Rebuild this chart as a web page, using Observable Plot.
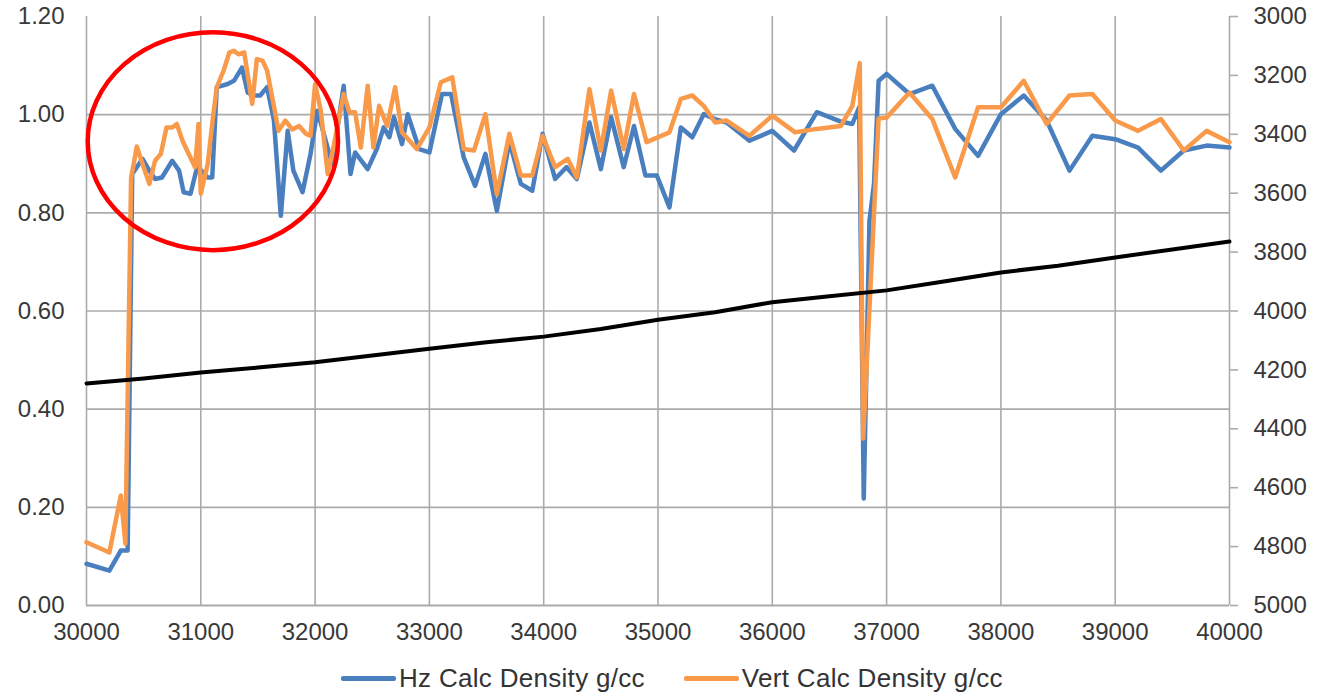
<!DOCTYPE html>
<html>
<head>
<meta charset="utf-8">
<script src="https://cdn.jsdelivr.net/npm/d3@7"></script>
<script src="https://cdn.jsdelivr.net/npm/@observablehq/plot@0.6"></script>
<style>
  html, body { margin: 0; padding: 0; background: #fff; }
  #wrap { position: relative; width: 1317px; height: 694px; font-family: "Liberation Sans", Arial, sans-serif; }
  #legend { position: absolute; left: 341px; top: 663px; display: flex; align-items: center; font-size: 26px; letter-spacing: 0.3px; color: #333; white-space: nowrap; }
  .sw { display: inline-block; width: 55px; height: 4.5px; border-radius: 2px; margin-right: 3px; }
  .item { display: flex; align-items: center; }
</style>
</head>
<body>
<div id="wrap">
  <div id="chart"></div>
  <div id="legend"></div>
</div>
<script>
// ---- Data ----
const xTicks = [30000, 31000, 32000, 33000, 34000, 35000, 36000, 37000, 38000, 39000, 40000];
const leftTicks = [0, 0.2, 0.4, 0.6, 0.8, 1.0, 1.2];
const rightTicks = [3000, 3200, 3400, 3600, 3800, 4000, 4200, 4400, 4600, 4800, 5000];
const seriesNames = ["Hz Calc Density g/cc", "Vert Calc Density g/cc"];

const hzDepth = [
  30000, 30200, 30300, 30360, 30400, 30490, 30550, 30600, 30660, 30750,
  30810, 30850, 30910, 30970, 31060, 31100, 31140, 31230, 31290, 31360,
  31410, 31460, 31520, 31580, 31640, 31700, 31760, 31810, 31890, 31960,
  32020, 32150, 32250, 32310, 32350, 32460, 32540, 32600, 32650, 32690,
  32760, 32810, 32910, 33000, 33110, 33190, 33300, 33400, 33490, 33590,
  33700, 33800, 33900, 33990, 34100, 34200, 34290, 34400, 34500, 34590,
  34700, 34790, 34890, 34990, 35100, 35200, 35300, 35400, 35500, 35600,
  35800, 36000, 36190, 36390, 36600, 36700, 36760, 36800, 36850, 36890,
  36930, 37000, 37200, 37400, 37600, 37800, 38000, 38200, 38400, 38600,
  38800, 39000, 39200, 39400, 39600, 39800, 40000
];
const hzDensity = [
  0.085, 0.071, 0.112, 0.112, 0.879, 0.910, 0.886, 0.869, 0.872, 0.906,
  0.886, 0.842, 0.839, 0.895, 0.872, 0.872, 1.056, 1.062, 1.069, 1.096,
  1.045, 1.039, 1.039, 1.056, 0.988, 0.794, 0.967, 0.886, 0.842, 0.920,
  1.008, 0.899, 1.059, 0.879, 0.923, 0.889, 0.930, 0.974, 0.954, 0.995,
  0.940, 1.001, 0.930, 0.923, 1.042, 1.042, 0.913, 0.855, 0.920, 0.804,
  0.945, 0.859, 0.845, 0.961, 0.869, 0.893, 0.869, 0.984, 0.889, 0.995,
  0.893, 0.977, 0.876, 0.876, 0.811, 0.974, 0.954, 1.001, 0.991, 0.984,
  0.947, 0.967, 0.927, 1.005, 0.986, 0.981, 1.015, 0.218, 0.784, 0.859,
  1.069, 1.083, 1.042, 1.059, 0.971, 0.916, 1.001, 1.039, 0.988, 0.886,
  0.957, 0.950, 0.933, 0.886, 0.927, 0.937, 0.933
];

const vertDepth = [
  30000, 30200, 30300, 30340, 30390, 30440, 30500, 30550, 30600, 30650,
  30700, 30750, 30790, 30840, 30880, 30950, 30980, 31000, 31060, 31110,
  31140, 31200, 31250, 31290, 31330, 31380, 31450, 31490, 31540, 31580,
  31630, 31680, 31740, 31800, 31860, 31920, 31960, 32000, 32050, 32110,
  32160, 32250, 32300, 32350, 32400, 32460, 32510, 32560, 32630, 32700,
  32760, 32890, 33000, 33100, 33200, 33300, 33390, 33490, 33590, 33700,
  33800, 33900, 33990, 34100, 34210, 34290, 34400, 34500, 34590, 34700,
  34790, 34900, 35100, 35200, 35300, 35400, 35500, 35600, 35800, 36000,
  36200, 36390, 36600, 36700, 36765, 36795, 36930, 37000, 37200, 37400,
  37600, 37800, 38000, 38200, 38400, 38600, 38800, 39000, 39200, 39400,
  39600, 39800, 40000
];
const vertDensity = [
  0.129, 0.108, 0.224, 0.126, 0.870, 0.935, 0.893, 0.859, 0.906, 0.920,
  0.974, 0.974, 0.981, 0.947, 0.927, 0.893, 0.981, 0.839, 0.899, 1.001,
  1.056, 1.090, 1.127, 1.130, 1.123, 1.127, 1.022, 1.113, 1.110, 1.090,
  1.029, 0.967, 0.988, 0.970, 0.977, 0.961, 0.957, 1.062, 1.008, 0.879,
  0.933, 1.042, 1.005, 1.005, 0.933, 1.059, 0.933, 1.018, 0.977, 1.056,
  0.964, 0.930, 0.974, 1.066, 1.076, 0.930, 0.927, 1.001, 0.838, 0.961,
  0.876, 0.876, 0.957, 0.893, 0.910, 0.872, 1.052, 0.927, 1.049, 0.930,
  1.042, 0.944, 0.964, 1.032, 1.039, 1.018, 0.984, 0.988, 0.957, 0.998,
  0.964, 0.971, 0.977, 1.018, 1.105, 0.340, 0.992, 0.994, 1.045, 0.991,
  0.872, 1.015, 1.015, 1.069, 0.981, 1.039, 1.042, 0.988, 0.967, 0.991,
  0.927, 0.967, 0.944
];

// black line, read on the right (inverted) axis
const tvdDepth = [
  30000, 30500, 31000, 31500, 32000, 32500, 33000, 33500, 34000, 34500,
  35000, 35500, 36000, 36500, 37000, 37500, 38000, 38500, 39000, 39500, 40000
];
const tvdValue = [
  4246, 4229, 4209, 4192, 4174, 4151, 4128, 4106, 4087, 4061,
  4030, 4004, 3970, 3950, 3930, 3900, 3869, 3846, 3818, 3791, 3764
];

// red ellipse annotation (in data units)
const note = { depth: 31110, density: 0.945, rDepth: 1095, rDensity: 0.222 };

// ---- Build ----
const BLUE = "#4a7fbf", ORANGE = "#f89a4a", GRID = "#ababab", TEXT = "#383838";
const rightToLeft = v => (5000 - v) / 2000 * 1.2;   // right axis -> left axis scale
const rightPos = rightTicks.map(rightToLeft);

const hzRows = hzDepth.map((d, i) => ({ depth: d, density: hzDensity[i] }));
const vertRows = vertDepth.map((d, i) => ({ depth: d, density: vertDensity[i] }));
const tvdRows = tvdDepth.map((d, i) => ({ depth: d, tvd: tvdValue[i] }));

const chart = Plot.plot({
  width: 1317,
  height: 652,
  marginLeft: 86,
  marginRight: 88,
  marginTop: 16,
  marginBottom: 47,
  x: { domain: [30000, 40000] },
  y: { domain: [0, 1.2] },
  style: { fontFamily: "'Liberation Sans', Arial, sans-serif", fontSize: "24px", color: TEXT, background: "white", overflow: "visible" },
  marks: [
    Plot.gridX(xTicks, { stroke: GRID, strokeOpacity: 1, strokeWidth: 1.6 }),
    Plot.gridY(leftTicks.filter(d => d > 0 && d < 1.2), { stroke: GRID, strokeOpacity: 1, strokeWidth: 1.6 }),
    Plot.ruleY([0], { stroke: GRID, strokeWidth: 1.8 }),
    Plot.axisY(leftTicks, { anchor: "left", tickSize: 0, tickPadding: 22, tickFormat: d => d.toFixed(2), label: null, fill: TEXT }),
    Plot.axisY(rightPos, { anchor: "right", tickSize: 8, tickPadding: 16, stroke: GRID, strokeWidth: 1.6, tickFormat: d => String(rightTicks[rightPos.indexOf(d)]), label: null, fill: TEXT }),
    Plot.axisX(xTicks, { anchor: "bottom", tickSize: 0, tickPadding: 17, tickFormat: d => String(d), label: null, fill: TEXT }),
    Plot.line(hzRows, { x: "depth", y: "density", stroke: BLUE, strokeWidth: 4.5, strokeLinejoin: "round", strokeLinecap: "round" }),
    Plot.line(vertRows, { x: "depth", y: "density", stroke: ORANGE, strokeWidth: 4.5, strokeLinejoin: "round", strokeLinecap: "round" }),
    Plot.line(tvdRows, { x: "depth", y: d => rightToLeft(d.tvd), stroke: "#000", strokeWidth: 4, strokeLinejoin: "round" }),
    (index, scales) => {
      const cx = scales.x(note.depth), cy = scales.y(note.density);
      const rx = scales.x(note.depth + note.rDepth) - cx;
      const ry = cy - scales.y(note.density + note.rDensity);
      return d3.create("svg:ellipse")
        .attr("cx", cx).attr("cy", cy).attr("rx", rx).attr("ry", ry)
        .attr("fill", "none").attr("stroke", "#ff0000").attr("stroke-width", 4.5)
        .node();
    }
  ]
});
document.getElementById("chart").appendChild(chart);

// legend
const legend = d3.select("#legend");
[[seriesNames[0], BLUE], [seriesNames[1], ORANGE]].forEach(([name, color], i) => {
  const item = legend.append("div").attr("class", "item").style("margin-right", i === 0 ? "39px" : "0");
  item.append("span").attr("class", "sw").style("background", color);
  item.append("span").text(name);
});
</script>
</body>
</html>
